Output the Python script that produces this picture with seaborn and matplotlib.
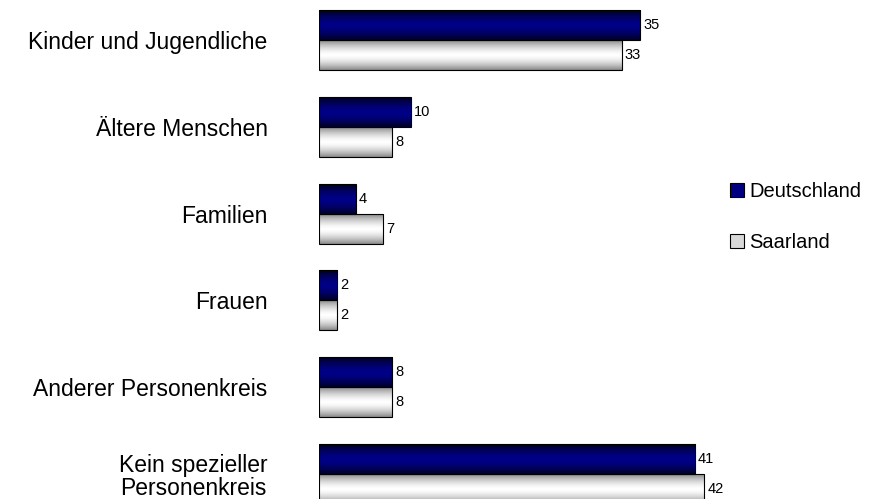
import numpy as np
import pandas as pd
import matplotlib
matplotlib.use("Agg")
import matplotlib.pyplot as plt
import seaborn as sns
from matplotlib.patches import Rectangle

categories = ["Kinder und Jugendliche", "Ältere Menschen", "Familien", "Frauen",
              "Anderer Personenkreis", "Kein spezieller\nPersonenkreis"]
deutschland = [35, 10, 4, 2, 8, 41]
saarland = [33, 8, 7, 2, 8, 42]
series = ["Deutschland", "Saarland"]

df = pd.DataFrame({
    "Kategorie": categories * 2,
    "Wert": deutschland + saarland,
    "Land": [series[0]] * len(categories) + [series[1]] * len(categories),
})

sns.set_style("white")
plt.rcParams["font.family"] = ["Liberation Sans", "DejaVu Sans"]
plt.rcParams["text.color"] = "black"
plt.rcParams["ytick.color"] = "black"

fig = plt.figure(figsize=(8.77, 4.99), dpi=100)
ax = fig.add_axes([319 / 877, 0.0, 413 / 877, 1.0])

sns.barplot(data=df, y="Kategorie", x="Wert", hue="Land", orient="h",
            palette={"Deutschland": "#000080", "Saarland": "#e0e0e0"},
            width=0.69, edgecolor="black", linewidth=0.8, ax=ax, legend=False)

ax.set_xlim(0, 45)
ax.set_ylim(5.288, -0.461)

# vertical gradient overlays
def grad_img(dark, light):
    t = np.linspace(-1, 1, 64)
    w = 1 - np.abs(t) ** 1.6
    dark = np.array(matplotlib.colors.to_rgb(dark))
    light = np.array(matplotlib.colors.to_rgb(light))
    img = dark[None, :] + (light - dark)[None, :] * w[:, None]
    return img[:, None, :]

grads = {0: grad_img("#000022", "#000088"), 1: grad_img("#8a8a8a", "#ffffff")}
for ci, cont in enumerate(ax.containers):
    for p in cont.patches:
        x0, y0 = p.get_x(), p.get_y()
        w, h = p.get_width(), p.get_height()
        im = ax.imshow(grads[ci], extent=(x0, x0 + w, y0 + h, y0), aspect="auto",
                       interpolation="bilinear", zorder=1)
        im.set_clip_path(p)
        p.set_facecolor("none")
        p.set_zorder(2)
    ax.bar_label(cont, padding=2, fontsize=10.5, color="black")

ax.set_xlim(0, 45)
ax.set_ylim(5.288, -0.461)

for s in ax.spines.values():
    s.set_visible(False)
ax.set_xticks([])
ax.set_xlabel("")
ax.set_ylabel("")
ax.tick_params(axis="y", length=0, pad=37, labelcolor="black")
for lab in ax.get_yticklabels():
    lab.set_fontsize(16.5)
    lab.set_horizontalalignment("right")
    lab.set_multialignment("center")
    lab.set_linespacing(1.05)

handles = [Rectangle((0, 0), 1, 1, facecolor="#000080", edgecolor="black", linewidth=0.8),
           Rectangle((0, 0), 1, 1, facecolor="#d8d8d8", edgecolor="black", linewidth=0.8)]
fig.legend(handles, series, loc="center left", bbox_to_anchor=(730 / 877, 1 - 217 / 499),
           frameon=False, fontsize=14.5, handlelength=0.7, handleheight=0.7,
           handletextpad=0.25, labelspacing=1.55, borderpad=0,
           borderaxespad=0)

fig.savefig("out.png", dpi=100)
